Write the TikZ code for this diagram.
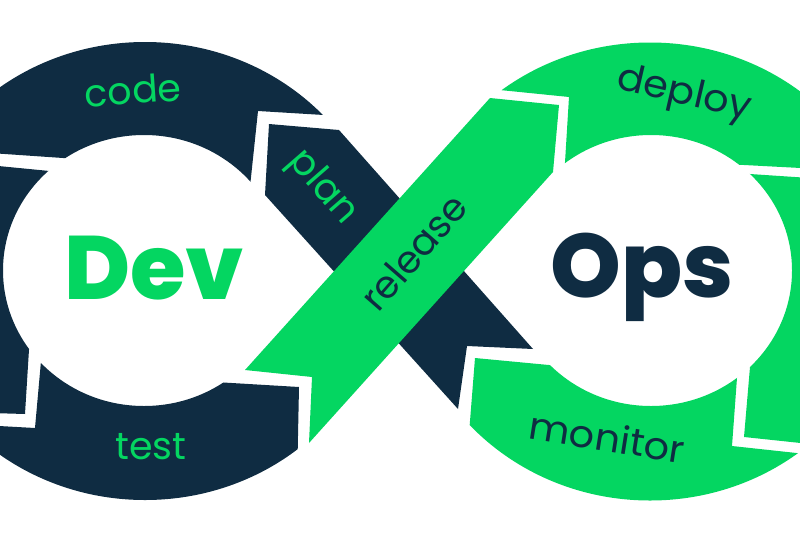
\documentclass[tikz,border=0pt]{standalone}
\usepackage{fontspec}
\setmainfont{Poppins}
\newfontfamily\heavyfont{Poppins ExtraBold}
\usepackage{tikz}
\definecolor{navy}{RGB}{15,44,66}
\definecolor{leaf}{RGB}{4,214,97}
\tikzset{
	stage/.style={font=\fontsize{38}{38}\selectfont, inner sep=0pt},
	title/.style={font=\fontsize{90}{90}\heavyfont, inner sep=0pt}
}
\begin{document}
\begin{tikzpicture}[x=1pt, y=-1pt]
	\useasboundingbox (0,0) rectangle (800,533);
	\clip (0,0) rectangle (800,533);
	\begin{scope}[even odd rule]
		\clip (145,271) ellipse (243 and 229) (144,270.5) ellipse (141 and 135.5);
		\fill[navy] (258,111) -- (345,116.3) -- (345,0) -- (-10,0) -- (-10,153) -- (63,158) -- (80,159) -- (248.6,200) -- cycle;
		\fill[navy] (-10,165.2) -- (65,172.5) -- (33,285) -- (25,414) -- (-10,413) -- cycle;
		\fill[navy] (42,350) -- (35,428) -- (-10,425.5) -- (-10,533) -- (296,533) -- (299,387) -- (215,382) -- cycle;
	\end{scope}
	\begin{scope}[even odd rule]
		\clip (650,271.5) ellipse (243 and 229) (651,270.5) ellipse (141 and 135.5);
		\fill[leaf] (480,88) -- (569,97) -- (563,195) -- (725,164) -- (810,168.5) -- (810,0) -- (480,0) -- cycle;
		\fill[leaf] (735,173) -- (810,178) -- (810,444) -- (744,437) -- (750,367) -- (752,340) -- cycle;
		\fill[leaf] (475,358) -- (570,367) -- (738.3,360) -- (732,446) -- (815,455) -- (815,533) -- (468,533) -- (468.5,440) -- cycle;
	\end{scope}
	\fill[navy] (269,124) -- (339,130) -- (533,349) -- (467,346) -- (458,409) -- (265,195) -- cycle;
	\fill[leaf] (490,98) -- (559,105) -- (553,172) -- (309,443) -- (312,377) -- (245,370) -- cycle;
	\node[stage, text=leaf, rotate=4] (code) at (133,90) {code};
	\node[stage, text=leaf, rotate=-49] (plan) at (322,188) {plan};
	\node[stage, text=leaf] (test) at (151,447) {test};
	\node[stage, text=navy, rotate=49] (release) at (414,252) {release};
	\node[stage, text=navy, rotate=-13, xscale=1.05] (deploy) at (684,95) {deploy};
	\node[stage, text=navy, rotate=-9, xscale=1.05] (monitor) at (607,437) {monitor};
	\node[title, text=leaf] (dev) at (154,268) {Dev};
	\node[title, text=navy] (ops) at (642,277) {Ops};
\end{tikzpicture}
\end{document}
